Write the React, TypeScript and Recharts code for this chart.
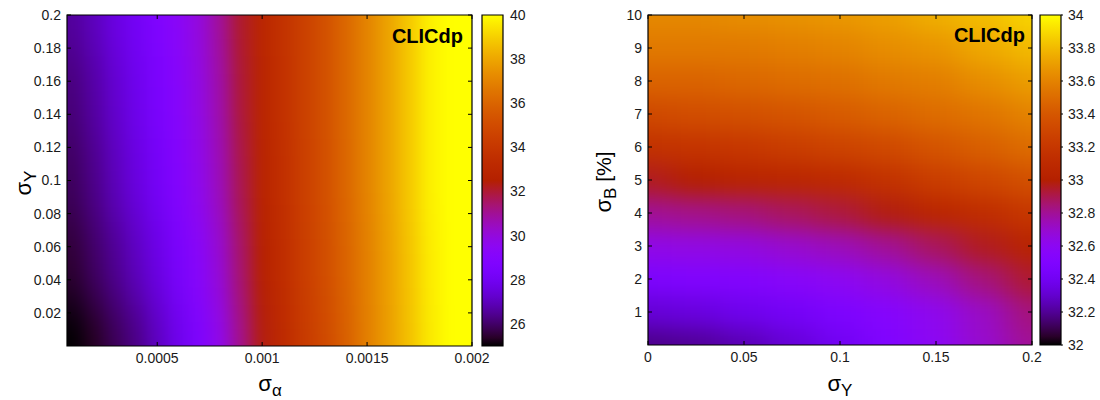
import React from 'react';
import { ScatterChart, Scatter, XAxis, YAxis, ReferenceArea } from 'recharts';

const FONT = '"Liberation Sans", Arial, Helvetica, sans-serif';
const TICK_COLOR = '#1a1a1a';

// ---------------- left panel (sigma_alpha vs sigma_Y) ----------------
const leftXs = [0.0001, 0.0002, 0.0003, 0.0004, 0.0005, 0.0006, 0.0007, 0.0008, 0.0009, 0.001,
  0.0011, 0.0012, 0.0013, 0.0014, 0.0015, 0.0016, 0.0017, 0.0018, 0.0019, 0.002];
const leftYs = [0, 0.05, 0.1, 0.15, 0.2];
const leftAtY000 = [24.7, 25.3, 25.8, 26.3, 27.0, 27.8, 28.6, 29.7, 31.1, 32.35, 33.25, 34.15, 34.9, 35.8, 36.85, 37.75, 38.65, 39.55, 40.6, 41.5];
const leftAtY005 = [25.5, 25.95, 26.45, 27.0, 27.65, 28.4, 29.2, 30.15, 31.45, 32.6, 33.4, 34.3, 35.05, 35.95, 36.9, 37.8, 38.7, 39.6, 40.7, 41.5];
const leftAtY010 = [25.9, 26.35, 26.95, 27.55, 28.15, 28.9, 29.65, 30.55, 31.75, 32.8, 33.55, 34.4, 35.15, 36.05, 37.0, 37.9, 38.8, 39.7, 40.8, 41.5];
const leftAtY015 = [26.2, 26.65, 27.25, 27.8, 28.45, 29.1, 29.85, 30.75, 31.95, 32.9, 33.65, 34.45, 35.2, 36.1, 37.0, 37.9, 38.8, 39.7, 40.8, 41.5];
const leftAtY020 = [26.6, 27.0, 27.6, 28.1, 28.7, 29.3, 30.0, 30.95, 32.1, 32.95, 33.7, 34.45, 35.2, 36.1, 37.0, 37.9, 38.8, 39.7, 40.8, 41.5];
const leftRows = [leftAtY000, leftAtY005, leftAtY010, leftAtY015, leftAtY020];
const leftXDomain: [number, number] = [0.00007, 0.002];
const leftYDomain: [number, number] = [0, 0.2];
const leftXTicks = [0.0005, 0.001, 0.0015, 0.002];
const leftYTicks = [0.02, 0.04, 0.06, 0.08, 0.1, 0.12, 0.14, 0.16, 0.18, 0.2];
const leftCbRange: [number, number] = [25, 40];
const leftCbTicks = [26, 28, 30, 32, 34, 36, 38, 40];

// ---------------- right panel (sigma_Y vs sigma_B) ----------------
const rightXs = [0, 0.025, 0.05, 0.075, 0.1, 0.125, 0.15, 0.175, 0.2];
const rightYs = [0, 1, 2, 3, 4, 5, 6, 7, 8, 9, 10];
const rightAtY0 = [32.18, 32.2, 32.25, 32.32, 32.40, 32.50, 32.60, 32.70, 32.80];
const rightAtY1 = [32.32, 32.34, 32.38, 32.42, 32.48, 32.54, 32.62, 32.72, 32.84];
const rightAtY2 = [32.48, 32.50, 32.52, 32.56, 32.60, 32.66, 32.74, 32.84, 32.94];
const rightAtY3 = [32.64, 32.65, 32.66, 32.70, 32.74, 32.80, 32.88, 32.96, 33.04];
const rightAtY4 = [32.80, 32.82, 32.84, 32.88, 32.92, 32.98, 33.06, 33.12, 33.20];
const rightAtY5 = [32.96, 33.00, 33.04, 33.06, 33.10, 33.16, 33.24, 33.30, 33.36];
const rightAtY6 = [33.16, 33.18, 33.20, 33.24, 33.28, 33.32, 33.38, 33.44, 33.50];
const rightAtY7 = [33.32, 33.34, 33.36, 33.38, 33.42, 33.46, 33.50, 33.54, 33.60];
const rightAtY8 = [33.46, 33.46, 33.48, 33.50, 33.52, 33.56, 33.58, 33.64, 33.70];
const rightAtY9 = [33.56, 33.56, 33.56, 33.58, 33.60, 33.64, 33.67, 33.74, 33.80];
const rightAtY10 = [33.62, 33.62, 33.64, 33.66, 33.68, 33.71, 33.76, 33.81, 33.88];
const rightRows = [rightAtY0, rightAtY1, rightAtY2, rightAtY3, rightAtY4, rightAtY5, rightAtY6, rightAtY7, rightAtY8, rightAtY9, rightAtY10];
const rightXDomain: [number, number] = [0, 0.2];
const rightYDomain: [number, number] = [0, 10];
const rightXTicks = [0, 0.05, 0.1, 0.15, 0.2];
const rightYTicks = [1, 2, 3, 4, 5, 6, 7, 8, 9, 10];
const rightCbRange: [number, number] = [32, 34];
const rightCbTicks = [32, 32.2, 32.4, 32.6, 32.8, 33, 33.2, 33.4, 33.6, 33.8, 34];

// gnuplot default pm3d palette (rgbformulae 7,5,15)
function palette(t: number): string {
  const c = Math.min(1, Math.max(0, t));
  const r = Math.sqrt(c);
  const g = c * c * c;
  const b = Math.max(0, Math.sin(2 * Math.PI * c));
  return `rgb(${Math.round(r * 255)},${Math.round(g * 255)},${Math.round(b * 255)})`;
}

type CellDatum = { x: number; y: number; v: number; i: number; j: number; color: string };

function buildCells(xs: number[], ys: number[], rows: number[][], range: [number, number]): CellDatum[] {
  const out: CellDatum[] = [];
  rows.forEach((row, j) => {
    row.forEach((v, i) => {
      out.push({ x: xs[i], y: ys[j], v, i, j, color: palette((v - range[0]) / (range[1] - range[0])) });
    });
  });
  return out;
}

const leftCells = buildCells(leftXs, leftYs, leftRows, leftCbRange);
const rightCells = buildCells(rightXs, rightYs, rightRows, rightCbRange);

const textStyle = { fontFamily: FONT, fontSize: 14, fill: TICK_COLOR };

type PanelProps = {
  width: number;
  height: number;
  margin: { top: number; right: number; bottom: number; left: number };
  yAxisWidth: number;
  xAxisHeight: number;
  xDomain: [number, number];
  yDomain: [number, number];
  cells: CellDatum[];
  nx: number;
  ny: number;
  dx: number;
  dy: number;
  extX: number;
  extY: number;
  xTicks: number[];
  yTicks: number[];
  heatClass: string;
};

function HeatPanel(p: PanelProps) {
  const plotW = p.width - p.margin.left - p.margin.right - p.yAxisWidth;
  const plotH = p.height - p.margin.top - p.margin.bottom - p.xAxisHeight;
  const cw = (plotW * p.dx) / (p.xDomain[1] - p.xDomain[0]);
  const ch = (plotH * p.dy) / (p.yDomain[1] - p.yDomain[0]);
  const TL = 4;

  const shape = (props: any) => {
    const { cx, cy, payload } = props;
    let x0 = cx - cw / 2;
    let x1 = cx + cw / 2;
    let y0 = cy - ch / 2;
    let y1 = cy + ch / 2;
    if (payload.i === 0) x0 -= p.extX;
    if (payload.i === p.nx - 1) x1 += p.extX;
    if (payload.j === 0) y1 += p.extY;
    if (payload.j === p.ny - 1) y0 -= p.extY;
    return <rect x={x0 - 0.5} y={y0 - 0.5} width={x1 - x0 + 1} height={y1 - y0 + 1} fill={payload.color} />;
  };

  const xTick = (props: any) => {
    const { x, y, payload } = props;
    return (
      <g>
        <line x1={x} x2={x} y1={y} y2={y - TL} stroke="#000" strokeWidth={1} />
        <line x1={x} x2={x} y1={y - plotH} y2={y - plotH + TL} stroke="#000" strokeWidth={1} />
        <text x={x} y={y + 12} dy="0.35em" textAnchor="middle" style={textStyle}>{String(payload.value)}</text>
      </g>
    );
  };
  const yTick = (props: any) => {
    const { x, y, payload } = props;
    return (
      <g>
        <line x1={x} x2={x + TL} y1={y} y2={y} stroke="#000" strokeWidth={1} />
        <line x1={x + plotW} x2={x + plotW - TL} y1={y} y2={y} stroke="#000" strokeWidth={1} />
        <text x={x - 6} y={y} dy="0.35em" textAnchor="end" style={textStyle}>{String(payload.value)}</text>
      </g>
    );
  };

  return (
    <ScatterChart width={p.width} height={p.height} margin={p.margin}>
      <Scatter data={p.cells} shape={shape} className={p.heatClass} isAnimationActive={false} />
      <XAxis type="number" dataKey="x" domain={p.xDomain} allowDataOverflow ticks={p.xTicks} interval={0}
        height={p.xAxisHeight} tickSize={0} tickMargin={0} axisLine={false} tickLine={false} tick={xTick} zIndex={900} />
      <YAxis type="number" dataKey="y" domain={p.yDomain} allowDataOverflow ticks={p.yTicks} interval={0}
        width={p.yAxisWidth} tickSize={0} tickMargin={0} axisLine={false} tickLine={false} tick={yTick} zIndex={900} />
      <ReferenceArea x1={p.xDomain[0]} x2={p.xDomain[1]} y1={p.yDomain[0]} y2={p.yDomain[1]}
        fill="none" fillOpacity={0} stroke="#000" strokeWidth={1.2} ifOverflow="visible" zIndex={950} />
    </ScatterChart>
  );
}

type CbProps = {
  width: number;
  height: number;
  margin: { top: number; right: number; bottom: number; left: number };
  yAxisWidth: number;
  range: [number, number];
  ticks: number[];
  gradId: string;
  outerTicks: boolean;
};

function ColorBar(p: CbProps) {
  const tick = (props: any) => {
    const { x, y, payload } = props;
    return (
      <g>
        {p.outerTicks ? <line x1={x} x2={x + 2} y1={y} y2={y} stroke="#000" strokeWidth={1} /> : null}
        <text x={x + 7} y={y} dy="0.35em" textAnchor="start" style={textStyle}>{String(payload.value)}</text>
      </g>
    );
  };
  const anchors = p.ticks.map((v) => ({ x: 0.5, y: v }));
  return (
    <ScatterChart width={p.width} height={p.height} margin={p.margin}>
      <Scatter data={anchors} shape={() => <g />} isAnimationActive={false} />
      <XAxis type="number" dataKey="x" domain={[0, 1]} hide />
      <YAxis type="number" dataKey="y" orientation="right" domain={p.range} ticks={p.ticks} interval={0}
        width={p.yAxisWidth} tickSize={0} tickMargin={0} axisLine={false} tickLine={false} tick={tick} />
      <ReferenceArea x1={0} x2={1} y1={p.range[0]} y2={p.range[1]} fill={`url(#${p.gradId})`} fillOpacity={1}
        stroke="#000" strokeWidth={1.2} ifOverflow="visible" />
    </ScatterChart>
  );
}

const gradStops = Array.from({ length: 41 }, (_, k) => k / 40);

export default function App() {
  return (
    <div style={{ position: 'absolute', left: 0, top: 0, width: 1100, height: 400, background: '#fff', fontFamily: FONT, overflow: 'hidden' }}>
      <style>{`.heatL{filter:url(#blurL);} .heatR{filter:url(#blurR);}`}</style>
      <svg width={0} height={0} style={{ position: 'absolute' }}>
        <defs>
          <filter id="blurL" x="-50%" y="-50%" width="200%" height="200%" colorInterpolationFilters="sRGB">
            <feGaussianBlur stdDeviation="8 26" />
          </filter>
          <filter id="blurR" x="-50%" y="-50%" width="200%" height="200%" colorInterpolationFilters="sRGB">
            <feGaussianBlur stdDeviation="15 11" />
          </filter>
          <linearGradient id="cbL" x1="0" y1="1" x2="0" y2="0">
            {gradStops.map((t) => <stop key={t} offset={t} stopColor={palette(t)} />)}
          </linearGradient>
          <linearGradient id="cbR" x1="0" y1="1" x2="0" y2="0">
            {gradStops.map((t) => <stop key={t} offset={t} stopColor={palette(t)} />)}
          </linearGradient>
        </defs>
      </svg>

      <div style={{ position: 'absolute', left: 0, top: 0 }}>
        <HeatPanel width={500} height={400} margin={{ top: 15, right: 28, bottom: 0, left: 0 }} yAxisWidth={67} xAxisHeight={54}
          xDomain={leftXDomain} yDomain={leftYDomain} cells={leftCells} nx={leftXs.length} ny={leftYs.length}
          dx={0.0001} dy={0.05} extX={50} extY={110} xTicks={leftXTicks} yTicks={leftYTicks} heatClass="heatL" />
      </div>
      <div style={{ position: 'absolute', left: 470, top: 0 }}>
        <ColorBar width={80} height={400} margin={{ top: 15, right: 0, bottom: 54, left: 12 }} yAxisWidth={47}
          range={leftCbRange} ticks={leftCbTicks} gradId="cbL" outerTicks={false} />
      </div>
      <div style={{ position: 'absolute', left: 560, top: 0 }}>
        <HeatPanel width={500} height={400} margin={{ top: 15, right: 28, bottom: 0, left: 0 }} yAxisWidth={88} xAxisHeight={55}
          xDomain={rightXDomain} yDomain={rightYDomain} cells={rightCells} nx={rightXs.length} ny={rightYs.length}
          dx={0.025} dy={1} extX={70} extY={60} xTicks={rightXTicks} yTicks={rightYTicks} heatClass="heatR" />
      </div>
      <div style={{ position: 'absolute', left: 1028, top: 0 }}>
        <ColorBar width={72} height={400} margin={{ top: 15, right: 0, bottom: 55, left: 12 }} yAxisWidth={39}
          range={rightCbRange} ticks={rightCbTicks} gradId="cbR" outerTicks={true} />
      </div>

      <svg width={1100} height={400} style={{ position: 'absolute', left: 0, top: 0, pointerEvents: 'none' }}>
        <g style={{ fontFamily: FONT, fill: '#000' }}>
          <text x={463} y={43} textAnchor="end" fontSize={20} fontWeight="bold">CLICdp</text>
          <text x={1025} y={42} textAnchor="end" fontSize={20} fontWeight="bold">CLICdp</text>
          <text x={270} y={391} textAnchor="middle" fontSize={22}>σ<tspan fontSize={17} dy={5}>α</tspan></text>
          <text x={840} y={391} textAnchor="middle" fontSize={22}>σ<tspan fontSize={17} dy={5}>Y</tspan></text>
          <text transform="translate(31,183) rotate(-90)" textAnchor="middle" fontSize={22}>σ<tspan fontSize={17} dy={5}>Y</tspan></text>
          <text transform="translate(611,182) rotate(-90)" textAnchor="middle" fontSize={22}>σ<tspan fontSize={17} dy={5}>B</tspan><tspan dy={-5} fontSize={21}> [%]</tspan></text>
        </g>
      </svg>
    </div>
  );
}
